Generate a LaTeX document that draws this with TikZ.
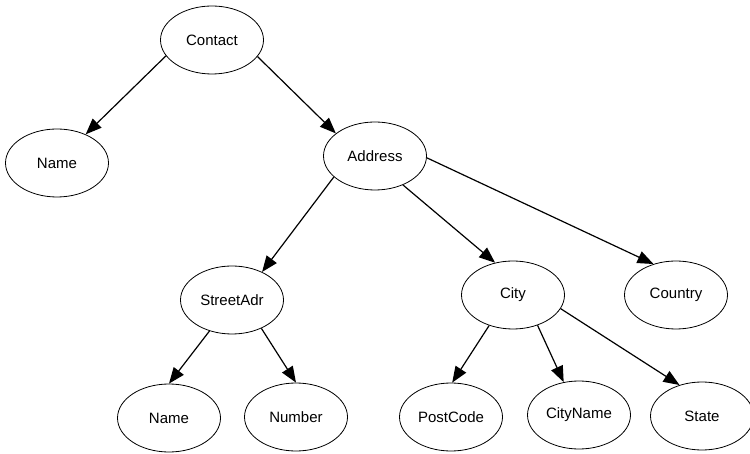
\documentclass[tikz,border=0pt]{standalone}
\usepackage{fontspec}
\setmainfont{Liberation Sans}
\usetikzlibrary{shapes.geometric,arrows.meta}
\begin{document}
\begin{tikzpicture}[x=1pt,y=-1pt,
  ent/.style={ellipse,draw,line width=0.8pt,minimum width=103pt,minimum height=68pt,inner sep=0pt,font=\fontsize{15}{17}\selectfont},
  link/.style={line width=1.2pt,-{Triangle[length=16pt,width=12.5pt]}}]
\useasboundingbox (0,0) rectangle (750,454);
\node[ent] (contact) at (212,40) {Contact};
\node[ent] (name1) at (57,163) {Name};
\node[ent] (address) at (375,156) {Address};
\node[ent] (street) at (232,300) {StreetAdr};
\node[ent] (city) at (513,295) {City};
\node[ent] (country) at (676,295) {Country};
\node[ent] (name2) at (169,418) {Name};
\node[ent] (number) at (296,417) {Number};
\node[ent] (postcode) at (451,417) {PostCode};
\node[ent] (cityname) at (579,415) {CityName};
\node[ent] (state) at (702,416) {State};
\draw[link] (contact.199) -- (name1.45);
\draw[link] (contact.340) -- (address.150);
\draw[link] (address.207) -- (street.43);
\draw[link] (address.314) -- (city.119);
\draw[link] (address.358) -- (country.126);
\draw[link] (street.234) -- (name2.90);
\draw[link] (street.316) -- (number.90);
\draw[link] (city.232) -- (postcode.88);
\draw[link] (city.309) -- (cityname.115);
\draw[link] (city.344) -- (state.126);
\end{tikzpicture}
\end{document}
